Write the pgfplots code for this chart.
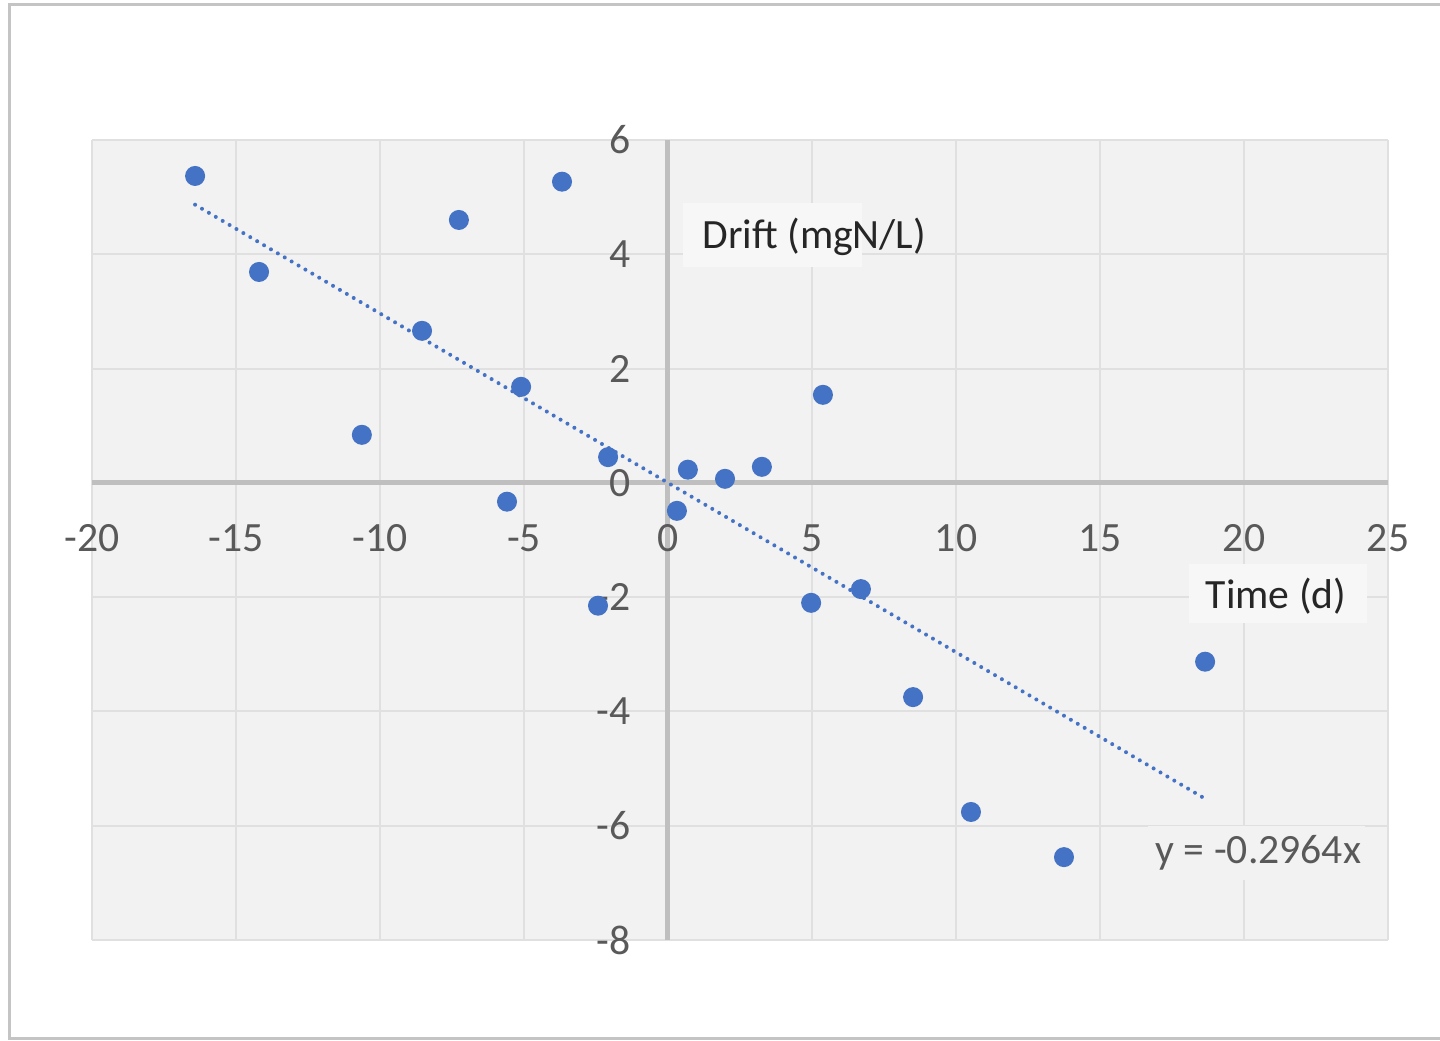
\documentclass[border=0pt]{standalone}
\usepackage{pgfplots}
\pgfplotsset{compat=1.18}
\usepackage{fontspec}
\setmainfont{Carlito}
\definecolor{ptblue}{HTML}{4472C4}
\definecolor{bggray}{HTML}{F2F2F2}
\definecolor{gridgray}{HTML}{E0E0E0}
\definecolor{zerogray}{HTML}{BFBFBF}
\definecolor{labelgray}{HTML}{595959}
\definecolor{titlegray}{HTML}{262626}
\definecolor{boxgray}{HTML}{F7F7F7}
\definecolor{framegray}{HTML}{C4C4C4}

\pgfplotstableread{
x y
-16.42 5.37
-14.20 3.69
-7.26 4.60
-3.68 5.27
-8.54 2.66
-5.10 1.68
-10.63 0.84
-2.08 0.45
-5.59 -0.33
-2.43 -2.15
0.31 -0.49
0.69 0.23
1.98 0.07
3.26 0.28
5.38 1.54
4.97 -2.10
6.70 -1.86
8.51 -3.75
10.52 -5.76
13.75 -6.55
18.65 -3.13
}\drift

\begin{document}
\begin{tikzpicture}
\path[use as bounding box] (-27.6pt,-30.3pt) rectangle (404.4pt,282pt);
% frame of the screenshot
\draw[framegray, line width=0.9pt] (404.4pt,280.6pt) -- (-24.6pt,280.6pt) -- (-24.6pt,-29.5pt) -- (404.4pt,-29.5pt);
\begin{axis}[
    at={(0,0)}, anchor=south west,
    scale only axis,
    width=388.8pt, height=240pt,
    xmin=-20, xmax=25, ymin=-8, ymax=6,
    xtick={-20,-15,...,25},
    ytick={-8,-6,...,6},
    axis lines=middle,
    axis line style={-, draw=zerogray, line width=1.5pt},
    hide obscured x ticks=false,
    hide obscured y ticks=false,
    major tick length=0pt,
    grid=major,
    major grid style={draw=gridgray, line width=0.6pt},
    axis background/.style={fill=bggray},
    tick label style={font=\fontsize{12.5}{15}\selectfont, text=labelgray},
    /pgf/number format/assume math mode=true,
    xticklabel style={anchor=center, yshift=-16.5pt},
    yticklabel style={anchor=east, xshift=-7.8pt},
    clip=false,
]
% trendline y = -0.2964x
\addplot[ptblue, line width=1.2pt, line cap=round, dash pattern=on 0pt off 2.4pt]
    coordinates {(-16.42,4.867) (18.65,-5.528)};
\addplot[only marks, mark=*, mark size=2.8pt, color=ptblue] table[x=x, y=y] {\drift};

% axis titles and trendline label
\fill[boxgray] (axis cs:0.52,3.78) rectangle (axis cs:6.74,4.90);
\node[anchor=west, inner sep=0pt, text=titlegray, font=\fontsize{12.5}{15}\selectfont]
    at (axis cs:1.18,4.31) {Drift (mgN/L)};
\fill[boxgray] (axis cs:18.09,-2.45) rectangle (axis cs:24.27,-1.42);
\node[anchor=west, inner sep=0pt, text=titlegray, font=\fontsize{12.5}{15}\selectfont]
    at (axis cs:18.65,-1.98) {Time (d)};
\fill[bggray] (axis cs:16.67,-6.95) rectangle (axis cs:24.2,-6.0);
\node[anchor=west, inner sep=0pt, text=labelgray, font=\fontsize{12.5}{15}\selectfont]
    at (axis cs:16.91,-6.47) {y = -0.2964x};
\end{axis}
\end{tikzpicture}
\end{document}
